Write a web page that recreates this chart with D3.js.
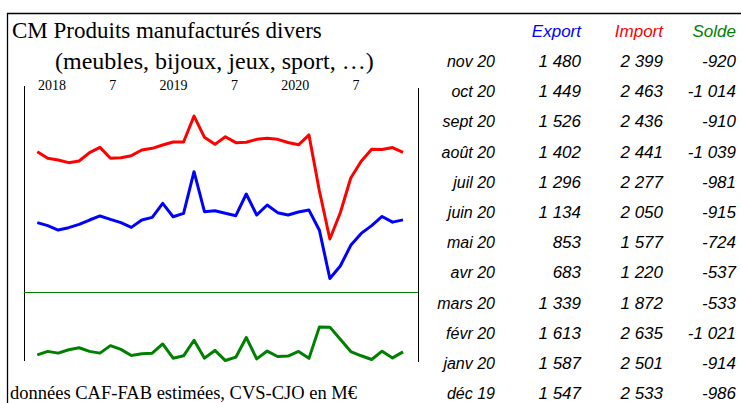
<!DOCTYPE html>
<html>
<head>
<meta charset="utf-8">
<script src="https://cdn.jsdelivr.net/npm/d3@7"></script>
<style>
  body { margin: 0; background: #fff; }
  .serif { font-family: "Liberation Serif", "Times New Roman", serif; }
  .sans { font-family: "Liberation Sans", Arial, sans-serif; font-style: italic; }
</style>
</head>
<body>
<div id="chart"></div>
<script>
// monthly data, déc 2017 -> nov 2020 (M€)
const monthNames = ["janv", "févr", "mars", "avr", "mai", "juin", "juil", "août", "sept", "oct", "nov", "déc"];
const exportVals = [1442, 1401, 1342, 1374, 1419, 1478, 1533, 1487, 1442, 1378, 1478, 1514,
                    1705, 1523, 1569, 2135, 1591, 1605, 1569, 1537, 1832, 1546, 1682, 1578,
                    1547, 1587, 1613, 1339, 683, 853, 1134, 1296, 1402, 1526, 1449, 1480];
const importVals = [2407, 2317, 2294, 2258, 2280, 2394, 2466, 2317, 2326, 2353, 2430, 2453,
                    2498, 2539, 2539, 2892, 2602, 2507, 2611, 2530, 2535, 2575, 2589, 2575,
                    2533, 2501, 2635, 1872, 1220, 1577, 2050, 2277, 2441, 2436, 2463, 2399];
const soldeVals = [-966, -913, -940, -887, -856, -913, -940, -824, -882, -976, -950, -940,
                   -798, -1018, -982, -740, -1018, -898, -1055, -1003, -698, -1029, -908, -992,
                   -986, -914, -1021, -533, -537, -724, -915, -981, -1039, -910, -1014, -920];
const tickLabels = ["2018", "7", "2019", "7", "2020", "7"];
const tableHeaders = ["Export", "Import", "Solde"];

const width = 741, height = 403;
const colors = { exp: "#0000ff", imp: "#ff0000", sol: "#008000" };

// month labels like "déc 17"
const months = exportVals.map((d, i) => {
    const m = (11 + i) % 12;
    const y = 2017 + Math.floor((11 + i) / 12);
    return monthNames[m] + " " + String(y).slice(2);
});

const svg = d3.select("#chart").append("svg")
    .attr("width", width)
    .attr("height", height);

svg.append("rect").attr("width", width).attr("height", height).attr("fill", "#fff");

// outer frame (top and left)
svg.append("line").attr("x1", 7).attr("x2", width).attr("y1", 13.5).attr("y2", 13.5)
    .attr("stroke", "#000").attr("stroke-width", 1.3);
svg.append("line").attr("x1", 7.5).attr("x2", 7.5).attr("y1", 13).attr("y2", height)
    .attr("stroke", "#000").attr("stroke-width", 1.3);

// titles
svg.append("text").attr("class", "serif").attr("x", 12).attr("y", 38)
    .attr("font-size", 23).text("CM Produits manufacturés divers");
svg.append("text").attr("class", "serif").attr("x", 55).attr("y", 69)
    .attr("font-size", 24).text("(meubles, bijoux, jeux, sport, …)");
svg.append("text").attr("class", "serif").attr("x", 10).attr("y", 399)
    .attr("font-size", 18.5).text("données CAF-FAB estimées, CVS-CJO en M€");

// scales
const x = d3.scalePoint().domain(d3.range(months.length)).range([37.3, 403]);
const yIE = d3.scaleLinear().domain([0, 3000]).range([328.7, 108.1]);
const ySolde = d3.scaleLinear().domain([-1000, 0]).range([357, 292.5]);

// plot side lines
svg.append("line").attr("x1", 24.5).attr("x2", 24.5).attr("y1", 86).attr("y2", 361)
    .attr("stroke", "#000");
svg.append("line").attr("x1", 418.5).attr("x2", 418.5).attr("y1", 88).attr("y2", 362)
    .attr("stroke", "#000");

// solde zero line
svg.append("line").attr("x1", 24).attr("x2", 418)
    .attr("y1", ySolde(0)).attr("y2", ySolde(0))
    .attr("stroke", colors.sol).attr("stroke-width", 1);

// year / month labels (evenly spaced over the top of the plot)
const tx = d3.scalePoint().domain(d3.range(tickLabels.length)).range([52, 356]);
svg.append("g").selectAll("text")
    .data(tickLabels)
    .join("text")
    .attr("class", "serif")
    .attr("x", (d, i) => tx(i))
    .attr("y", 90)
    .attr("text-anchor", "middle")
    .attr("font-size", 14)
    .text(d => d);

// series
const series = [
    { vals: importVals, y: yIE, color: colors.imp },
    { vals: exportVals, y: yIE, color: colors.exp },
    { vals: soldeVals, y: ySolde, color: colors.sol }
];
series.forEach(s => {
    svg.append("path")
        .datum(s.vals)
        .attr("d", d3.line()
            .x((d, i) => x(i))
            .y(d => s.y(d)))
        .attr("fill", "none")
        .attr("stroke", s.color)
        .attr("stroke-width", 3)
        .attr("stroke-linejoin", "round");
});

// table of the last 12 months
const fmt = d3.formatLocale({ decimal: ",", thousands: " ", grouping: [3], currency: ["", ""], minus: "-" }).format(",d");
const colX = [495, 581, 663, 736];
const rowY0 = 67, rowH = 30.2;

svg.append("g").selectAll("text")
    .data(tableHeaders)
    .join("text")
    .attr("class", "sans")
    .attr("font-style", "italic")
    .attr("x", (d, i) => colX[i + 1])
    .attr("y", 37)
    .attr("text-anchor", "end")
    .attr("font-size", 17)
    .attr("fill", (d, i) => [colors.exp, colors.imp, colors.sol][i])
    .text(d => d);

const rows = d3.range(months.length - 1, months.length - 13, -1);
const row = svg.append("g").selectAll("g")
    .data(rows)
    .join("g")
    .attr("transform", (d, i) => `translate(0,${rowY0 + i * rowH})`)
    .attr("font-style", "italic");

row.append("text").attr("class", "sans").attr("x", colX[0]).attr("text-anchor", "end")
    .attr("font-size", 16).text(d => months[d]);
row.append("text").attr("class", "sans").attr("x", colX[1]).attr("text-anchor", "end")
    .attr("font-size", 17).text(d => fmt(exportVals[d]));
row.append("text").attr("class", "sans").attr("x", colX[2]).attr("text-anchor", "end")
    .attr("font-size", 17).text(d => fmt(importVals[d]));
row.append("text").attr("class", "sans").attr("x", colX[3]).attr("text-anchor", "end")
    .attr("font-size", 17).text(d => fmt(soldeVals[d]));
</script>
</body>
</html>
